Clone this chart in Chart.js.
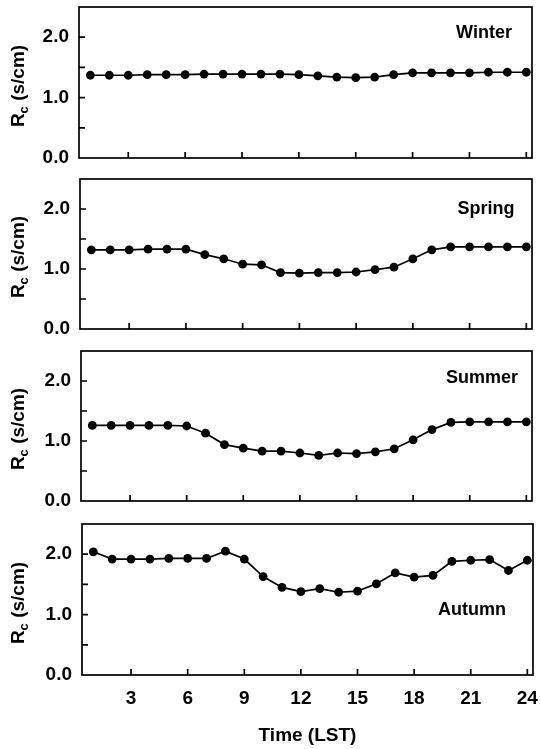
<!DOCTYPE html>
<html>
<head>
<meta charset="utf-8">
<script src="https://cdn.jsdelivr.net/npm/chart.js@4.4.1/dist/chart.umd.min.js"></script>
<style>
  body{margin:0;background:#fff;}
  #wrap{position:relative;width:541px;height:749px;background:#fff;overflow:hidden;}
  canvas{position:absolute;left:0;}
  .ytitle{position:absolute;font-family:"Liberation Sans",Arial,sans-serif;font-size:19px;font-weight:bold;color:#000;
    white-space:nowrap;transform:translate(-50%,-50%) rotate(-90deg);}
  .ytitle sub{font-size:13px;}
</style>
</head>
<body>
<div id="wrap">
  <canvas id="c1"></canvas>
  <canvas id="c2"></canvas>
  <canvas id="c3"></canvas>
  <canvas id="c4"></canvas>
</div>
<script>
// hours (LST)
let hours = [1,2,3,4,5,6,7,8,9,10,11,12,13,14,15,16,17,18,19,20,21,22,23,24];
let xTicks = [3,6,9,12,15,18,21,24];
let yTicks = [0,0.5,1,1.5,2];
let yLabels = ["0.0","","1.0","","2.0"];

// canopy resistance Rc (s/cm)
let winter = [1.37,1.37,1.37,1.38,1.38,1.38,1.39,1.39,1.39,1.39,1.39,1.38,1.36,1.34,1.33,1.34,1.38,1.41,1.41,1.41,1.41,1.42,1.42,1.42];
let spring = [1.32,1.32,1.32,1.33,1.33,1.33,1.24,1.17,1.08,1.07,0.94,0.93,0.94,0.94,0.95,0.99,1.03,1.17,1.32,1.37,1.37,1.37,1.37,1.37];
let summer = [1.26,1.26,1.26,1.26,1.26,1.25,1.13,0.94,0.88,0.83,0.83,0.80,0.76,0.80,0.79,0.82,0.87,1.02,1.19,1.31,1.32,1.32,1.32,1.32];
let autumn = [2.04,1.92,1.92,1.92,1.93,1.93,1.93,2.05,1.92,1.63,1.45,1.38,1.43,1.37,1.39,1.51,1.69,1.62,1.65,1.88,1.90,1.91,1.73,1.90];

let seasons = ["Winter","Spring","Summer","Autumn"];
let seriesList = [winter,spring,summer,autumn];

// plot boxes on the page: left, top, right, bottom
let boxes = [
  [79,7,532,158],
  [80,179,532,329],
  [81,351,532,501],
  [82,524,533,675]
];
// season label centre, relative to plot box right/top
let labelPos = [[-48,26],[-46,30],[-50,27],[-61,86]];

const FONT = "Liberation Sans";

/* frame + inward ticks + season label */
const frame = {
  id:"frame",
  afterDraw(chart, args, opts){
    let {ctx, chartArea:a, scales:{x,y}} = chart;
    ctx.save();
    ctx.strokeStyle="#000";
    ctx.lineWidth=1.7;
    ctx.strokeRect(a.left,a.top,a.right-a.left,a.bottom-a.top);
    ctx.beginPath();
    xTicks.forEach(v=>{
      let px=x.getPixelForValue(v);
      ctx.moveTo(px,a.bottom); ctx.lineTo(px,a.bottom-6);
    });
    yTicks.forEach(v=>{
      if(v===0) return;
      let py=y.getPixelForValue(v);
      ctx.moveTo(a.left,py); ctx.lineTo(a.left+6,py);
    });
    ctx.stroke();
    ctx.fillStyle="#000";
    ctx.font="bold 18px '"+FONT+"'";
    ctx.textAlign="center";
    ctx.textBaseline="middle";
    ctx.fillText(opts.label, a.right+opts.dx, a.top+opts.dy);
    ctx.restore();
  }
};

function noPad(s){
  s.paddingTop=0; s.paddingBottom=0; s.paddingLeft=0; s.paddingRight=0;
}

function makePanel(i){
  let [L,T,R,B] = boxes[i];
  let last = i===3;
  let cTop = T-8;
  let cBottom = last ? 749 : B+12;
  let cv = document.getElementById("c"+(i+1));
  cv.style.top = cTop+"px";
  cv.width = 541; cv.height = cBottom-cTop;
  cv.style.width="541px"; cv.style.height=(cBottom-cTop)+"px";

  let xHeight = last ? (cBottom-B) : 0;

  return new Chart(cv,{
    type:"line",
    data:{
      datasets:[{
        data:hours.map((h,k)=>({x:h,y:seriesList[i][k]})),
        borderColor:"#000",
        backgroundColor:"#000",
        borderWidth:1.7,
        pointRadius:4.4,
        pointBackgroundColor:"#000",
        pointBorderWidth:0,
        tension:0
      }]
    },
    options:{
      responsive:false,
      animation:false,
      layout:{padding:{left:0,top:T-cTop,right:541-R,bottom:last?0:(cBottom-B)}},
      plugins:{
        legend:{display:false},
        tooltip:{enabled:false},
        frame:{label:seasons[i],dx:labelPos[i][0],dy:labelPos[i][1]}
      },
      scales:{
        x:{
          type:"linear",
          min:0.4,max:24.3,
          afterBuildTicks:s=>{s.ticks=xTicks.map(v=>({value:v}));},
          afterFit:s=>{s.height=xHeight; noPad(s);},
          grid:{display:false,drawTicks:false},
          border:{display:false},
          ticks:{display:last,color:"#000",padding:12,maxRotation:0,autoSkip:false,
                 font:{family:FONT,size:19,weight:"bold"}},
          title:{display:last,text:"Time (LST)",color:"#000",
                 font:{family:FONT,size:19,weight:"bold"},padding:{top:4,bottom:2}}
        },
        y:{
          min:0,max:2.5,
          afterBuildTicks:s=>{s.ticks=yTicks.map(v=>({value:v}));},
          afterFit:s=>{s.width=L; noPad(s);},
          grid:{display:false,drawTicks:false},
          border:{display:false},
          ticks:{color:"#000",padding:10,autoSkip:false,
                 font:{family:FONT,size:19,weight:"bold"},
                 callback:(v,k)=>yLabels[k]}
        }
      }
    },
    plugins:[frame]
  });
}

for(let i=0;i<4;i++){
  makePanel(i);
  let [L,T,R,B] = boxes[i];
  let d=document.createElement("div");
  d.className="ytitle";
  d.innerHTML="R<sub>c</sub> (s/cm)";
  d.style.left="19px";
  d.style.top=((T+B)/2+3)+"px";
  document.getElementById("wrap").appendChild(d);
}
</script>
</body>
</html>
